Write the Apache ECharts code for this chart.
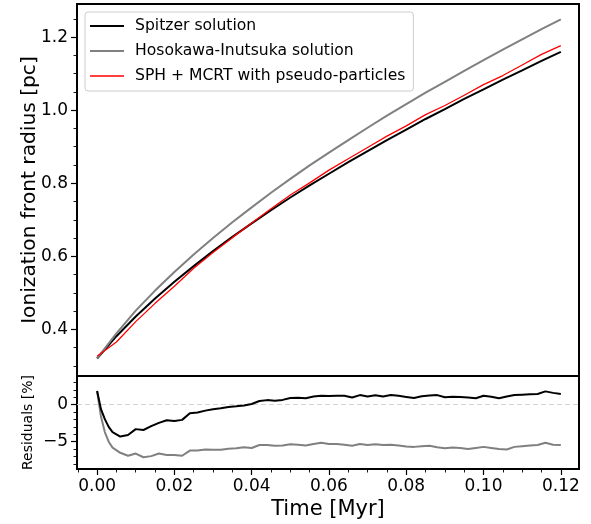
<!DOCTYPE html>
<html>
<head>
<meta charset="utf-8">
<script src="https://cdn.jsdelivr.net/npm/echarts@6/dist/echarts.min.js"></script>
<style>
html,body{margin:0;padding:0;background:#fff;}
#chart{width:591px;height:524px;}
</style>
</head>
<body>
<div id="chart"></div>
<script>
// ---- data ----
const solTime = [0,0.005,0.010,0.015,0.020,0.025,0.030,0.035,0.040,0.045,0.050,0.055,0.060,0.065,0.070,0.075,0.080,0.085,0.090,0.095,0.100,0.105,0.110,0.115,0.120];
const spitzer = [0.320,0.381,0.435,0.484,0.530,0.573,0.614,0.653,0.690,0.726,0.761,0.794,0.826,0.858,0.888,0.918,0.947,0.976,1.003,1.031,1.057,1.084,1.109,1.135,1.160];
const hosokawa = [0.320,0.389,0.451,0.506,0.557,0.605,0.650,0.693,0.734,0.774,0.812,0.849,0.884,0.918,0.952,0.985,1.017,1.048,1.078,1.108,1.137,1.166,1.194,1.222,1.249];
const sph = [0.326,0.365,0.421,0.471,0.518,0.567,0.610,0.651,0.691,0.730,0.768,0.801,0.836,0.867,0.898,0.929,0.957,0.988,1.013,1.041,1.070,1.095,1.124,1.153,1.177];

const resTime = [0,0.001,0.002,0.003,0.004,0.006,0.008,0.010,0.012,0.014,0.016,0.018,0.020,0.022,0.024,0.026,0.028,0.030,0.032,0.034,0.036,0.038,0.040,0.042,0.044,0.046,0.048,0.050,0.052,0.054,0.056,0.058,0.060,0.062,0.064,0.066,0.068,0.070,0.072,0.074,0.076,0.078,0.080,0.082,0.084,0.086,0.088,0.090,0.092,0.094,0.096,0.098,0.100,0.102,0.104,0.106,0.108,0.110,0.112,0.114,0.116,0.118,0.120];
const resSpitzer = [1.85,-0.6,-1.95,-3.0,-3.7,-4.3,-4.1,-3.3,-3.42,-2.9,-2.45,-2.1,-2.2,-2.05,-1.15,-1.05,-0.8,-0.6,-0.48,-0.32,-0.22,-0.1,0.1,0.5,0.62,0.55,0.65,0.9,0.95,0.88,1.1,1.2,1.18,1.2,1.2,0.97,1.3,1.1,1.28,1.1,1.3,1.2,1.05,0.9,1.15,1.25,1.3,1.0,1.07,1.05,0.98,0.88,1.2,1.08,0.88,1.1,1.3,1.35,1.4,1.45,1.8,1.6,1.45];
const resHI = [1.85,-1.6,-3.7,-5.0,-5.8,-6.5,-6.9,-6.6,-7.1,-6.95,-6.6,-6.8,-6.8,-6.9,-6.2,-6.2,-6.05,-6.1,-6.1,-5.95,-5.9,-5.75,-5.85,-5.45,-5.45,-5.55,-5.5,-5.35,-5.4,-5.5,-5.3,-5.15,-5.3,-5.3,-5.4,-5.55,-5.3,-5.45,-5.35,-5.45,-5.4,-5.5,-5.65,-5.7,-5.6,-5.55,-5.75,-5.9,-5.8,-5.85,-6.0,-5.85,-5.7,-5.85,-6.0,-6.05,-5.7,-5.6,-5.5,-5.45,-5.15,-5.4,-5.45];

const xTicks = [0.00,0.02,0.04,0.06,0.08,0.10,0.12];
const xMinorTicks = [-0.005,0.005,0.010,0.015,0.025,0.030,0.035,0.045,0.050,0.055,0.065,0.070,0.075,0.085,0.090,0.095,0.105,0.110,0.115];
const yTicks = [0.4,0.6,0.8,1.0,1.2];
const yMinorTicks = [0.30,0.35,0.45,0.50,0.55,0.65,0.70,0.75,0.85,0.90,0.95,1.05,1.10,1.15,1.25];
const resTicks = [-5,0];
const resMinorTicks = [-8,-7,-6,-4,-3,-2,-1,1,2,3];

const seriesNames = ['Spitzer solution','Hosokawa-Inutsuka solution','SPH + MCRT with pseudo-particles'];

// ---- chart ----
const FONT = 'DejaVu Sans';
const X_MIN = -0.0052, X_MAX = 0.1247;
const Y_MIN = 0.272, Y_MAX = 1.291;
const R_MIN = -8.69, R_MAX = 3.88;

function pairs(t, v){ return t.map((x,i)=>[x, v[i]]); }
function minus(s){ return s.replace('-', '\u2212'); }

const chart = echarts.init(document.getElementById('chart'), null, {renderer:'canvas'});
const tickLabel = {fontFamily: FONT, fontSize: 17, color: '#000'};
const noLine = {show: false, onZero: false};

chart.setOption({
  animation: false,
  backgroundColor: '#fff',
  grid: [
    {left: 77, top: 4, width: 502, height: 372, show: true, borderColor: '#000', borderWidth: 2, backgroundColor: 'transparent'},
    {left: 77, top: 376, width: 502, height: 93, show: true, borderColor: '#000', borderWidth: 2, backgroundColor: 'transparent'}
  ],
  legend: {
    data: [
      {name: seriesNames[0], icon: 'path://M0,0H34V2H0Z'},
      {name: seriesNames[1], icon: 'path://M0,0H34V2H0Z'},
      {name: seriesNames[2], icon: 'path://M0,0H34V1.3H0Z'}
    ],
    orient: 'vertical',
    left: 85, top: 12,
    itemWidth: 34, itemHeight: 14, itemGap: 9,
    padding: [6, 8, 7, 5],
    backgroundColor: 'rgba(255,255,255,0.8)',
    borderColor: '#cccccc', borderWidth: 1, borderRadius: 3,
    textStyle: {fontFamily: FONT, fontSize: 15.6, color: '#000', padding: [0,0,0,6]},
    selectedMode: false
  },
  xAxis: [
    {gridIndex: 0, type: 'value', position: 'bottom', min: X_MIN, max: X_MAX, axisLine: noLine, axisTick: {show: false}, axisLabel: {show: false}, splitLine: {show: false}},
    {gridIndex: 1, type: 'value', position: 'bottom', min: X_MIN, max: X_MAX,
      axisLine: noLine, splitLine: {show: false},
      axisTick: {show: true, length: 6, lineStyle: {color: '#000', width: 1.2}, customValues: xTicks},
      axisLabel: {show: true, margin: 9, ...tickLabel, customValues: xTicks, formatter: v => v.toFixed(2)},
      name: 'Time [Myr]', nameLocation: 'middle', nameGap: 30, nameMoveOverlap: false,
      nameTextStyle: {fontFamily: FONT, fontSize: 21, color: '#000'}
    },
    {gridIndex: 1, type: 'value', position: 'bottom', min: X_MIN, max: X_MAX,
      axisLine: noLine, splitLine: {show: false}, axisLabel: {show: false},
      axisTick: {show: true, length: 3.5, lineStyle: {color: '#000', width: 0.9}, customValues: xMinorTicks}
    }
  ],
  yAxis: [
    {gridIndex: 0, type: 'value', position: 'left', min: Y_MIN, max: Y_MAX,
      axisLine: noLine, splitLine: {show: false},
      axisTick: {show: true, length: 6, lineStyle: {color: '#000', width: 1.2}, customValues: yTicks},
      axisLabel: {show: true, margin: 9, ...tickLabel, customValues: yTicks, formatter: v => v.toFixed(1)},
      name: 'Ionization front radius [pc]', nameLocation: 'middle', nameGap: 37, nameMoveOverlap: false,
      nameTextStyle: {fontFamily: FONT, fontSize: 20.2, color: '#000'}
    },
    {gridIndex: 0, type: 'value', position: 'left', offset: 0, min: Y_MIN, max: Y_MAX,
      axisLine: noLine, splitLine: {show: false}, axisLabel: {show: false},
      axisTick: {show: true, length: 3.5, lineStyle: {color: '#000', width: 0.9}, customValues: yMinorTicks}
    },
    {gridIndex: 1, type: 'value', position: 'left', min: R_MIN, max: R_MAX,
      axisLine: noLine, splitLine: {show: false},
      axisTick: {show: true, length: 6, lineStyle: {color: '#000', width: 1.2}, customValues: resTicks},
      axisLabel: {show: true, margin: 9, ...tickLabel, customValues: resTicks, formatter: v => minus(String(v))},
      name: 'Residuals [%]', nameLocation: 'middle', nameGap: 42, nameMoveOverlap: false,
      nameTextStyle: {fontFamily: FONT, fontSize: 14, color: '#000'}
    },
    {gridIndex: 1, type: 'value', position: 'left', offset: 0, min: R_MIN, max: R_MAX,
      axisLine: noLine, splitLine: {show: false}, axisLabel: {show: false},
      axisTick: {show: true, length: 3.5, lineStyle: {color: '#000', width: 0.9}, customValues: resMinorTicks}
    }
  ],
  series: [
    {name: seriesNames[0], type: 'line', xAxisIndex: 0, yAxisIndex: 0, symbol: 'none', data: pairs(solTime, spitzer), lineStyle: {color: '#000000', width: 2}, itemStyle: {color: '#000000'}, z: 3},
    {name: seriesNames[1], type: 'line', xAxisIndex: 0, yAxisIndex: 0, symbol: 'none', data: pairs(solTime, hosokawa), lineStyle: {color: '#808080', width: 2}, itemStyle: {color: '#808080'}, z: 3},
    {name: seriesNames[2], type: 'line', xAxisIndex: 0, yAxisIndex: 0, symbol: 'none', data: pairs(solTime, sph), lineStyle: {color: '#ff0000', width: 1.3}, itemStyle: {color: '#ff0000'}, z: 4},
    {name: 'res-spitzer', type: 'line', xAxisIndex: 1, yAxisIndex: 2, symbol: 'none', data: pairs(resTime, resSpitzer), lineStyle: {color: '#000000', width: 2}, z: 4,
      markLine: {silent: true, symbol: ['none','none'], label: {show: false}, lineStyle: {color: '#d3d3d3', type: [5,3], width: 1.2}, data: [{yAxis: 0}], z: 1}
    },
    {name: 'res-hi', type: 'line', xAxisIndex: 1, yAxisIndex: 2, symbol: 'none', data: pairs(resTime, resHI), lineStyle: {color: '#808080', width: 2}, z: 3}
  ]
});
</script>
</body>
</html>
